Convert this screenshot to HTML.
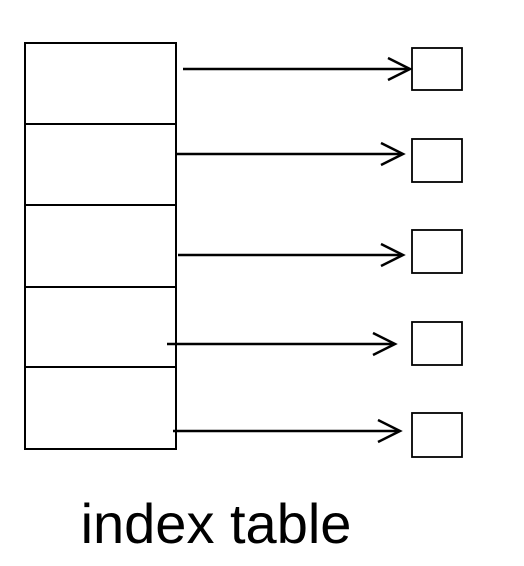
<!DOCTYPE html>
<html><head><meta charset="utf-8"><style>
body{margin:0;background:#fff;}
svg{display:block;}
</style></head><body>
<svg id="c" width="524" height="566" viewBox="0 0 524 566">
<rect x="25" y="43" width="151" height="406" fill="none" stroke="#000" stroke-width="2"/>
<text x="216" y="543" text-anchor="middle" font-family="Liberation Sans, Arial, sans-serif" font-size="56" fill="#000">index table</text>
</svg>
<script>
const rowDividers=[124,205,287,367];
const arrowY=[69,154,255,344,431];
const arrowStart=[183,175,178,167,173];
const arrowTip=[410,403,403,395,400];
const boxTop=[48,139,230,322,413];
const boxBottom=[90,182,273,365,457];
const svg=document.getElementById('c');
const NS='http://www.w3.org/2000/svg';
function mk(t,a){const e=document.createElementNS(NS,t);for(const k in a)e.setAttribute(k,a[k]);svg.appendChild(e);return e;}
rowDividers.forEach((y,i)=>{
  const l=mk('line',{x1:25,x2:176,y1:y,y2:y,stroke:'#000','stroke-width':2});
  
  
});
arrowY.forEach((y,i)=>{
  const l=mk('line',{x1:arrowStart[i],x2:arrowTip[i],y1:y,y2:y,stroke:'#000','stroke-width':2.5});
  
  
  const t=arrowTip[i];
  const h=mk('polyline',{points:(t-22)+','+(y-11)+' '+t+','+y+' '+(t-22)+','+(y+11),fill:'none',stroke:'#000','stroke-width':2.5});
  
  
  const b=mk('rect',{x:412,y:boxTop[i],width:50,height:boxBottom[i]-boxTop[i],fill:'none',stroke:'#000','stroke-width':1.8});
  
  
});
</script>
</body></html>
